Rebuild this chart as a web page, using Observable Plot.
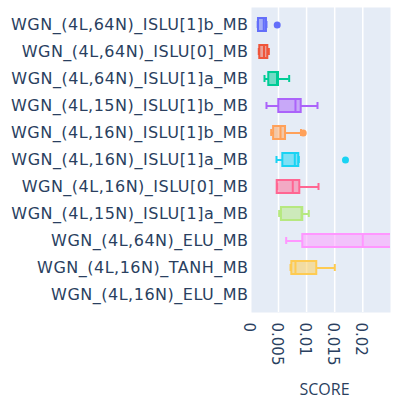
<!DOCTYPE html>
<html><head><meta charset="utf-8">
<script src="https://cdn.jsdelivr.net/npm/d3@7"></script>
<script src="https://cdn.jsdelivr.net/npm/@observablehq/plot@0.6"></script>
<style>
body{margin:0;background:#fff}
#chart g[aria-label="y-axis tick label"] text{letter-spacing:0.5px}
</style>
</head><body><div id="chart"></div>
<script>
const categories = [
  "WGN_(4L,64N)_ISLU[1]b_MB",
  "WGN_(4L,64N)_ISLU[0]_MB",
  "WGN_(4L,64N)_ISLU[1]a_MB",
  "WGN_(4L,15N)_ISLU[1]b_MB",
  "WGN_(4L,16N)_ISLU[1]b_MB",
  "WGN_(4L,16N)_ISLU[1]a_MB",
  "WGN_(4L,16N)_ISLU[0]_MB",
  "WGN_(4L,15N)_ISLU[1]a_MB",
  "WGN_(4L,64N)_ELU_MB",
  "WGN_(4L,16N)_TANH_MB",
  "WGN_(4L,16N)_ELU_MB"
];
const colors = ["#636efa","#EF553B","#00cc96","#ab63fa","#FFA15A","#19d3f3","#FF6692","#B6E880","#FF97FF","#FECB52","#636efa"];
const lo  = [0.00130,0.00149,0.00251,0.00286,0.00370,0.00464,0.00477,0.00512,0.00637,0.00714,null];
const q1  = [0.00144,0.00167,0.00327,0.00505,0.00413,0.00577,0.00477,0.00553,0.00932,0.00737,null];
const med = [0.00238,0.00242,0.00473,0.00802,0.00536,0.00790,0.00754,0.00910,0.02000,0.00802,null];
const q3  = [0.00286,0.00310,0.00500,0.00904,0.00625,0.00861,0.00879,0.00932,0.03000,0.01181,null];
const hi  = [0.00286,0.00328,0.00690,0.01194,0.00900,0.00861,0.01212,0.01039,0.03500,0.01502,null];
const outlierCats = ["WGN_(4L,64N)_ISLU[1]b_MB","WGN_(4L,16N)_ISLU[1]b_MB","WGN_(4L,16N)_ISLU[1]a_MB"];
const outlierVals = [0.00477,0.00940,0.01692];
const xTicks = [0,0.005,0.01,0.015,0.02];
const xTickLabels = ["0","0.005","0.01","0.015","0.02"];

const rows = categories.map((c,i)=>({cat:c,color:colors[i],lo:lo[i],q1:q1[i],med:med[i],q3:q3[i],hi:hi[i]})).filter(d=>d.q1!=null);
const outliers = outlierCats.map((c,i)=>({cat:c,v:outlierVals[i],color:colors[categories.indexOf(c)]}));

const txt = "#2a3f5f";
const chart = Plot.plot({
  width:397, height:416,
  marginLeft:251, marginRight:7, marginTop:7, marginBottom:104,
  style:{color:txt, background:"#fff"},
  x:{domain:[0.000196,0.02493]},
  y:{domain:categories, padding:0},
  color:{type:"identity"},
  marks:[
    Plot.frame({fill:"#E5ECF6", stroke:"none"}),
    Plot.gridX(xTicks.slice(1), {stroke:"white", strokeOpacity:1, strokeWidth:1.5}),
    Plot.ruleY(rows, {y:"cat", x1:"lo", x2:"q1", stroke:"color", strokeWidth:2}),
    Plot.ruleY(rows, {y:"cat", x1:"q3", x2:"hi", stroke:"color", strokeWidth:2, clip:true}),
    Plot.tickX(rows, {x:"lo", y:"cat", stroke:"color", strokeWidth:2, insetTop:10, insetBottom:10}),
    Plot.tickX(rows, {x:"hi", y:"cat", stroke:"color", strokeWidth:2, insetTop:10, insetBottom:10, clip:true}),
    Plot.barX(rows, {x1:"q1", x2:"q3", y:"cat", fill:"color", fillOpacity:0.5, stroke:"color", strokeWidth:2, insetTop:7, insetBottom:7, clip:true}),
    Plot.tickX(rows, {x:"med", y:"cat", stroke:"color", strokeWidth:2, insetTop:7, insetBottom:7, clip:true}),
    Plot.dot(outliers, {x:"v", y:"cat", fill:"color", r:3.5}),
    Plot.axisY({tickSize:0, tickPadding:3, fontSize:16, fontFamily:"DejaVu Sans", label:null}),
    Plot.axisX(xTicks, {tickSize:0, tickRotate:90, tickPadding:10, fontSize:15, fontFamily:"DejaVu Sans", label:null, dx:-2,
      tickFormat:d=>xTickLabels[xTicks.indexOf(d)]}),
    Plot.text(["SCORE"], {frameAnchor:"bottom", lineAnchor:"middle", dy:77, dx:3.5, fontSize:16, fontFamily:"Open Sans", fill:txt})
  ]
});
document.getElementById("chart").appendChild(chart);
</script>
</body></html>
